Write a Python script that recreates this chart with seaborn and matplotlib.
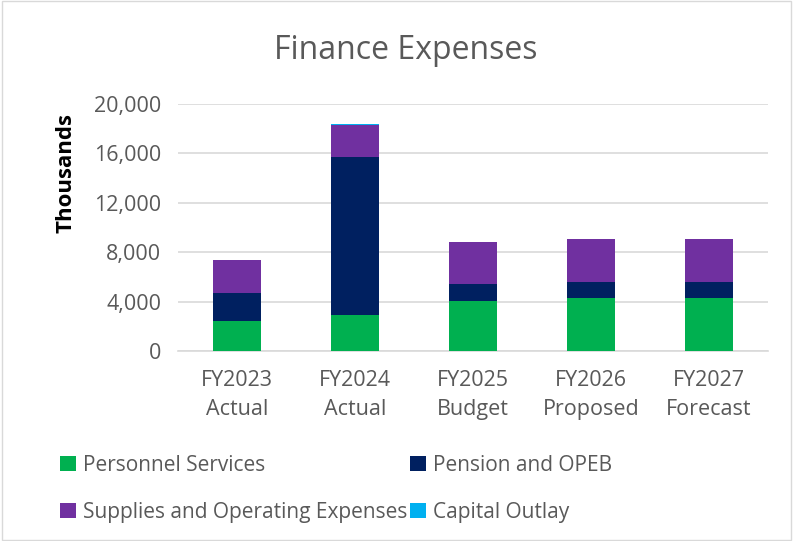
import matplotlib
matplotlib.use("Agg")
import matplotlib.pyplot as plt
import seaborn as sns
import pandas as pd
import numpy as np
from matplotlib.patches import Patch

categories = ["FY2023\nActual", "FY2024\nActual", "FY2025\nBudget", "FY2026\nProposed", "FY2027\nForecast"]
personnel = [2450, 2920, 4050, 4320, 4320]
pension = [2230, 12760, 1340, 1300, 1300]
supplies = [2700, 2620, 3460, 3440, 3440]
capital = [0, 100, 0, 0, 0]

series_names = ["Personnel Services", "Pension and OPEB", "Supplies and Operating Expenses", "Capital Outlay"]
series_vals = [personnel, pension, supplies, capital]
colors = ["#00B050", "#002060", "#7030A0", "#00B0F0"]

sns.set_theme(style="white")
plt.rcParams['font.family'] = ['Open Sans', 'DejaVu Sans']

fig = plt.figure(figsize=(7.93, 5.41), dpi=100)
ax = fig.add_axes([178/793, 1-351/541, (768-178)/793, (351-104)/541])

# stacked bars: draw cumulative totals from the top series down
cum = np.cumsum(np.array(series_vals), axis=0)
for i in range(len(series_names) - 1, -1, -1):
    df = pd.DataFrame({"cat": categories, "val": cum[i]})
    sns.barplot(data=df, x="cat", y="val", color=colors[i], width=0.4,
                saturation=1, ax=ax, edgecolor="none", linewidth=0, zorder=3)

ax.set_ylim(0, 20000)
ax.set_yticks(np.arange(0, 20001, 4000))
ax.set_yticklabels([f"{v:,}" for v in range(0, 20001, 4000)], color="#595959", fontsize=15.5)
ax.set_xticks(range(len(categories)))
ax.set_xticklabels(categories, color="#595959", fontsize=15.5, linespacing=1.45)
ax.set_xlabel("")
ax.set_ylabel("")
ax.yaxis.grid(True, color="#D9D9D9", linewidth=1.2, zorder=0)
ax.set_axisbelow(True)
for s in ["top", "right", "left"]:
    ax.spines[s].set_visible(False)
ax.spines["bottom"].set_color("#D9D9D9")
ax.spines["bottom"].set_linewidth(1.2)
ax.tick_params(axis="x", length=0, pad=14)
ax.tick_params(axis="y", length=0, pad=12)
ax.set_xlim(-0.5, 4.5)

fig.text(66/793, 1 - 173/541, "Thousands", rotation=90, ha="center", va="center",
         fontsize=16, fontweight="bold", color="black")

fig.text(406/793, 1 - 50/541, "Finance Expenses", ha="center", va="center",
         fontsize=23, color="#595959")

order = [0, 2, 1, 3]
handles = [Patch(facecolor=colors[i], edgecolor="none") for i in order]
labels = [series_names[i] for i in order]
fig.legend(handles, labels, ncol=2, loc="upper left", bbox_to_anchor=(60/793, 1 - 455/541),
           frameon=False, fontsize=15, labelcolor="#595959", handlelength=0.75, handleheight=0.75,
           handletextpad=0.35, columnspacing=0.15, labelspacing=1.25, borderaxespad=0, borderpad=0)

border = plt.Rectangle((0.002, 0.002), 0.996, 0.996, transform=fig.transFigure, fill=False,
                       edgecolor="#D9D9D9", linewidth=1)
fig.patches.append(border)

fig.savefig("out.png", dpi=100)
